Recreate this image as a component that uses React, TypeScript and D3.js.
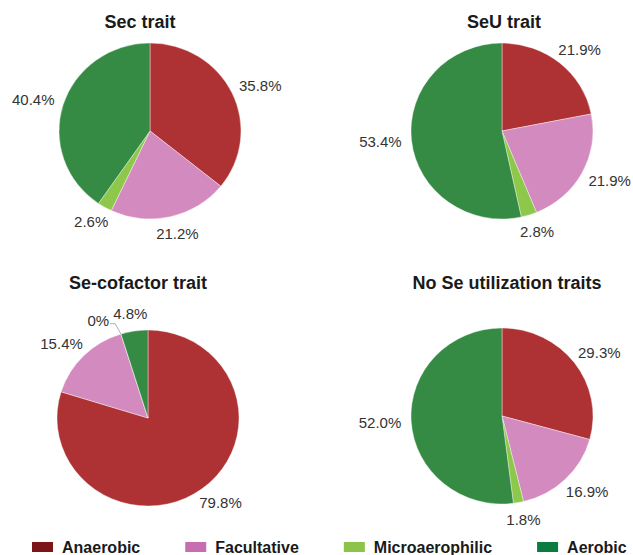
import React from "react";
import * as d3 from "d3";

const categories = ["Anaerobic", "Facultative", "Microaerophilic", "Aerobic"];
const titles = ["Sec trait", "SeU trait", "Se-cofactor trait", "No Se utilization traits"];
const secValues = [35.8, 21.2, 2.6, 40.4];
const seuValues = [21.9, 21.9, 2.8, 53.4];
const cofactorValues = [79.8, 15.4, 0, 4.8];
const noSeValues = [29.3, 16.9, 1.8, 52.0];

const sliceColors = ["#AE3234", "#D38ABF", "#8DC84A", "#358B43"];
const legendColors = ["#7B1518", "#C76DB1", "#8CC34B", "#0B7B3F"];

const W = 633;
const H = 555;
const RX = 91;
const RY = 88;
const GAP = 10;
const LABEL_FONT = "15px 'Liberation Sans', Arial, sans-serif";
const BOLD_FONT = "bold 16px 'Liberation Sans', Arial, sans-serif";

// panel layout (pie centre + title position)
const panels = [
  { values: secValues, cx: 150, cy: 131, tx: 140, ty: 28 },
  { values: seuValues, cx: 502, cy: 131, tx: 504, ty: 28 },
  { values: cofactorValues, cx: 148, cy: 418, tx: 138, ty: 289 },
  { values: noSeValues, cx: 502, cy: 416, tx: 507, ty: 289 },
];

let ctx: CanvasRenderingContext2D | null = null;
const measure = (t: string, font: string) => {
  if (!ctx) ctx = document.createElement("canvas").getContext("2d");
  if (!ctx) return t.length * 8;
  ctx.font = font;
  return ctx.measureText(t).width;
};

const fmt = (v: number) => (v === 0 ? "0%" : v.toFixed(1) + "%");

type Lbl = { text: string; x: number; y: number; w: number; h: number; a: number; moved: boolean; value: number };

const placeLabels = (arcs: d3.PieArcDatum<number>[]) => {
  const h = 14;
  const labels: Lbl[] = arcs.map((d) => {
    const a = (d.startAngle + d.endAngle) / 2;
    const text = fmt(d.data);
    const w = measure(text, LABEL_FONT);
    const s = Math.sin(a), c = Math.cos(a);
    const px = s * (RX + GAP), py = -c * (RY + GAP);
    return { text, x: px + (s * w) / 2, y: py - (c * h) / 2, w, h, a, moved: false, value: d.data };
  });
  const order = labels.slice().sort((p, q) => q.value - p.value);
  const placed: Lbl[] = [];
  const hit = (p: Lbl, q: Lbl) =>
    Math.abs(p.x - q.x) < (p.w + q.w) / 2 + 2 && Math.abs(p.y - q.y) < (p.h + q.h) / 2;
  order.forEach((l) => {
    placed.forEach((o) => {
      if (hit(l, o)) {
        l.moved = true;
        if (Math.sin(l.a) < 0) l.x = o.x - o.w / 2 - 4 - l.w / 2;
        else l.x = o.x + o.w / 2 + 4 + l.w / 2;
        l.y += 3;
      }
    });
    placed.push(l);
  });
  return labels;
};

const Pie = ({ values, cx, cy, tx, ty, title }: { values: number[]; cx: number; cy: number; tx: number; ty: number; title: string }) => {
  const pie = d3.pie<number>().sort(null).value((d) => d);
  const arcs = pie(values);
  const arc = d3.arc<d3.PieArcDatum<number>>().innerRadius(0).outerRadius(RX);
  const labels = placeLabels(arcs);
  return (
    <g>
      <text x={tx} y={ty} textAnchor="middle" fontFamily="'Liberation Sans', Arial, sans-serif" fontWeight="bold" fontSize={18} fill="#1a1a1a">
        {title}
      </text>
      <g transform={`translate(${cx},${cy}) scale(1,${RY / RX})`}>
        {arcs.map((d, i) => (
          <path key={i} d={arc(d) || ""} fill={sliceColors[i]} stroke="#fff" strokeWidth={0.4} />
        ))}
      </g>
      <g transform={`translate(${cx},${cy})`}>
        {labels.map((l, i) => {
          const ex = Math.sin(l.a) * RX, ey = -Math.cos(l.a) * RY;
          const side = Math.sin(l.a) < 0 ? 1 : -1;
          const lx = l.x + (side * l.w) / 2 + side * 1;
          const ly = l.y + 3;
          return (
            <g key={i}>
              {l.moved && (
                <polyline
                  points={`${lx},${ly} ${lx + side * 5},${ly} ${ex},${ey}`}
                  fill="none"
                  stroke="#9a9a9a"
                  strokeWidth={0.8}
                />
              )}
              <text x={l.x} y={l.y} dy="0.35em" textAnchor="middle" fontFamily="'Liberation Sans', Arial, sans-serif" fontSize={15} fill="#333">
                {l.text}
              </text>
            </g>
          );
        })}
      </g>
    </g>
  );
};

const Legend = () => {
  let x = 32;
  const items = categories.map((c, i) => {
    const w = measure(c, BOLD_FONT);
    const item = { c, i, x };
    x += 21 + 9 + w + 45;
    return item;
  });
  return (
    <g>
      {items.map((it) => (
        <g key={it.c}>
          <rect x={it.x} y={542} width={21} height={10} fill={legendColors[it.i]} />
          <text x={it.x + 30} y={553} fontFamily="'Liberation Sans', Arial, sans-serif" fontWeight="bold" fontSize={16} fill="#1a1a1a">
            {it.c}
          </text>
        </g>
      ))}
    </g>
  );
};

const App = () => {
  return (
    <svg width={W} height={H} style={{ position: "absolute", left: 0, top: 0, background: "#fff" }}>
      {panels.map((p, i) => (
        <Pie key={i} {...p} title={titles[i]} />
      ))}
      <Legend />
    </svg>
  );
};

export default App;
